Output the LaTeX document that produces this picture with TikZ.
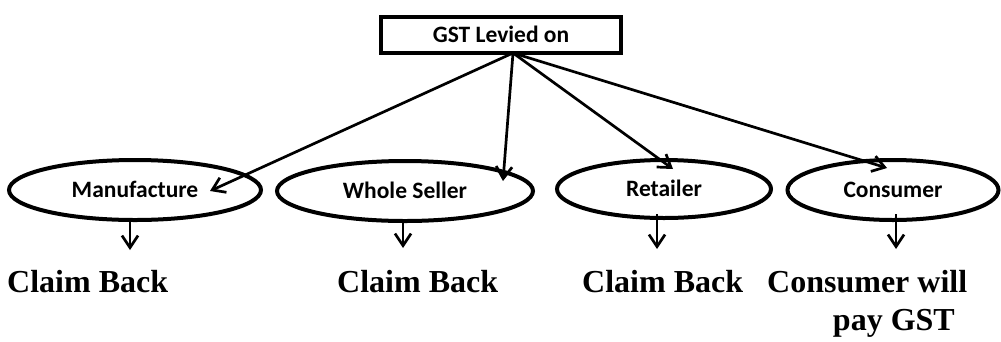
\documentclass[tikz,border=0pt]{standalone}
\usepackage{fontspec}
\setmainfont{Liberation Serif}
\newfontfamily\carlitofont{Carlito}
\usetikzlibrary{arrows.meta,shapes.geometric}
\begin{document}
\begin{tikzpicture}[x=1pt,y=-1pt,
  lbl/.style={font=\carlitofont\bfseries\fontsize{23.5}{26}\selectfont, text height=14pt, text depth=0pt},
  topbox/.style={draw, line width=4pt, minimum width=240pt, minimum height=36pt, inner sep=0pt, lbl},
  oval/.style={ellipse, draw, line width=4pt, inner sep=0pt, minimum height=60pt, lbl},
  arr/.style={line width=2.7pt, -{Straight Barb[length=12pt,width=16pt]}},
  darr/.style={line width=2.7pt, -{Straight Barb[length=12pt,width=16pt]}},
  claim/.style={font=\bfseries\fontsize{32}{38}\selectfont, inner sep=0pt}
]
\useasboundingbox (0,0) rectangle (1001,341);
\node[topbox] (gst) at (501,35) {GST Levied on};
\node[oval, minimum width=252pt] (m) at (135,190) {Manufacture};
\node[oval, minimum width=256pt] (w) at (405,191) {Whole Seller};
\node[oval, minimum width=214pt, minimum height=58pt] (r) at (664,189) {Retailer};
\node[oval, minimum width=211pt] (c) at (893,190) {Consumer};

\coordinate (src) at ([xshift=12pt,yshift=2pt]gst.south);
\draw[arr] (src) -- ([xshift=75pt,yshift=-1pt]m.center);
\draw[arr] (src) -- ([xshift=98pt,yshift=10pt]w.center);
\draw[arr] (src) -- ([xshift=9pt,yshift=20pt]r.center);
\draw[arr] (src) -- ([xshift=-6pt,yshift=22pt]c.center);

\coordinate (m1) at ([xshift=-5pt]m.south);
\coordinate (w1) at ([xshift=-2pt]w.south);
\coordinate (r1) at ([xshift=-7pt,yshift=6pt]r.south);
\coordinate (c1) at ([xshift=3pt,yshift=8pt]c.south);
\draw[darr] (m1) -- ++(0,28);
\draw[darr] (w1) -- ++(0,25);
\draw[darr] (r1) -- ++(0,35);
\draw[darr] (c1) -- ++(0,35);

\node[claim, anchor=base west] (mc) at (7,292) {Claim Back};
\node[claim, anchor=base west] (wc) at (337,292) {Claim Back};
\node[claim, anchor=base west] (rc) at (582,292) {Claim Back};
\node[claim, anchor=base west] (cc) at (767,292) {Consumer will};
\node[claim, anchor=base east] (cp) at (955,330) {pay GST};
\end{tikzpicture}
\end{document}
